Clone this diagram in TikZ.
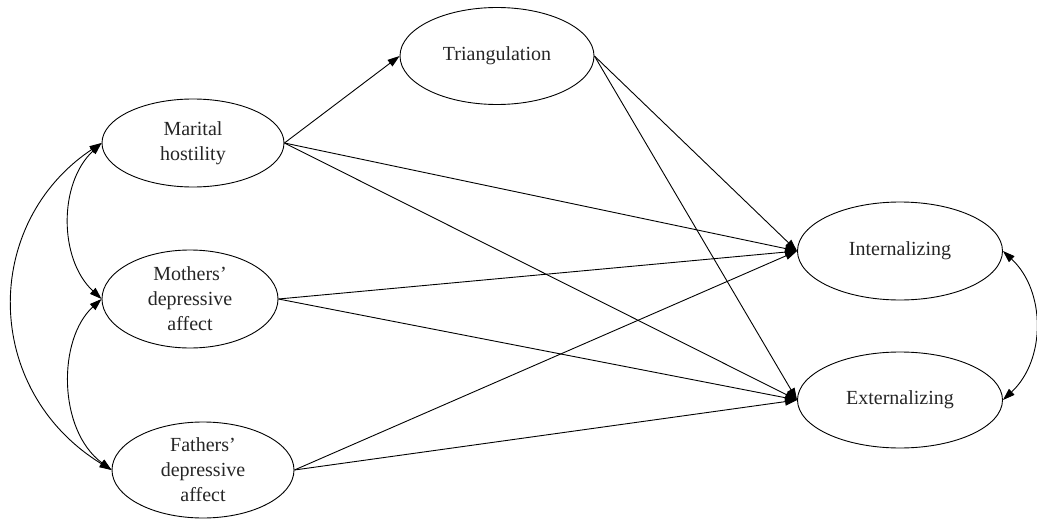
\documentclass[tikz,border=0pt]{standalone}
\usepackage{fontspec}
\setmainfont{Liberation Serif}
\usetikzlibrary{shapes.geometric,arrows.meta}
\begin{document}
\begin{tikzpicture}[x=1pt,y=-1pt,
  var/.style={draw, ellipse, inner sep=0pt, line width=0.9pt, align=center,
    font=\fontsize{20}{25}\selectfont, text=black!85},
  pathar/.style={line width=0.9pt, -{Triangle[length=12pt,width=8pt]}},
  cov/.style={line width=0.9pt, {Triangle[length=12pt,width=8pt]}-{Triangle[length=12pt,width=8pt]}}]
\useasboundingbox[fill=white] (0,0) rectangle (1037,519);
\node[var, minimum width=182pt, minimum height=88pt] (mar) at (193,143) {Marital\\hostility};
\node[var, minimum width=176pt, minimum height=98pt] (mot) at (190,299) {Mothers'\\depressive\\affect};
\node[var, minimum width=182pt, minimum height=96pt] (fat) at (203,470) {Fathers'\\depressive\\affect};
\node[var, minimum width=194pt, minimum height=97pt] (tri) at (497,56) {Triangulation};
\node[var, minimum width=205pt, minimum height=98pt] (int) at (900,251) {Internalizing};
\node[var, minimum width=205pt, minimum height=96pt] (ext) at (900,400) {Externalizing};
\draw[pathar] (mar.east) -- (tri.west);
\draw[pathar] (mar.east) -- (int.west);
\draw[pathar] (mar.east) -- (ext.west);
\draw[pathar] (tri.east) -- (int.west);
\draw[pathar] (tri.east) -- (ext.west);
\draw[pathar] (mot.east) -- (int.west);
\draw[pathar] (mot.east) -- (ext.west);
\draw[pathar] (fat.east) -- (int.west);
\draw[pathar] (fat.east) -- (ext.west);
\draw[cov] (mar.west) .. controls +(-43,40) and +(-43,-40) .. (mot.west);
\draw[cov] (mot.west) .. controls +(-44,40) and +(-54,-40) .. (fat.west);
\draw[cov] (mar.west) .. controls +(-120,80) and +(-130,-80) .. (fat.west);
\draw[cov] (int.east) .. controls +(43,40) and +(43,-40) .. (ext.east);
\end{tikzpicture}
\end{document}
